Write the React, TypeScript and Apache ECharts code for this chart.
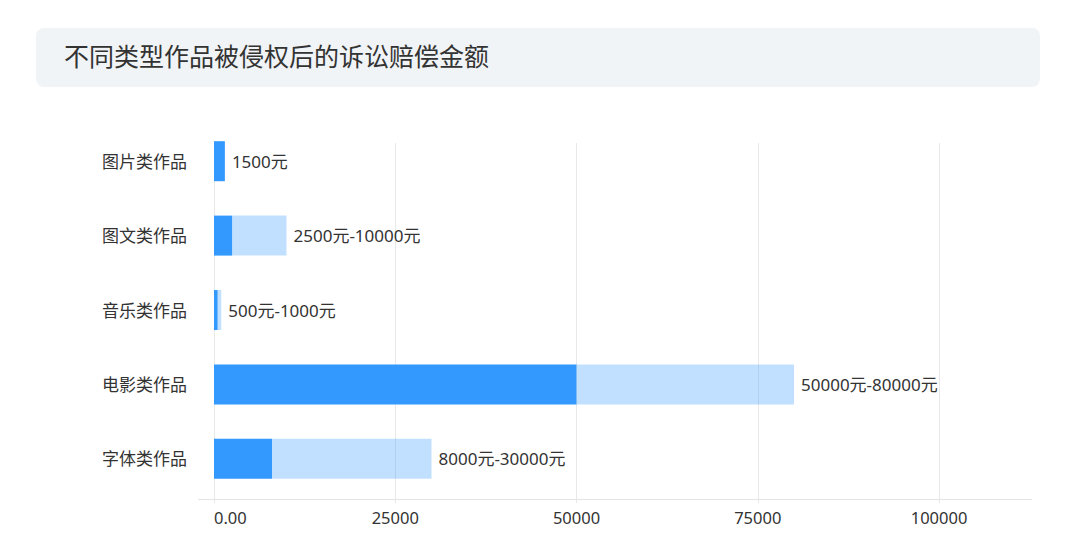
import { useEffect, useRef } from 'react';
import * as echarts from 'echarts';

const categories = ['图片类作品', '图文类作品', '音乐类作品', '电影类作品', '字体类作品'];
const minAmounts = [1500, 2500, 500, 50000, 8000];
const maxAmounts = [1500, 10000, 1000, 80000, 30000];
const amountLabels = ['1500元', '2500元-10000元', '500元-1000元', '50000元-80000元', '8000元-30000元'];
const xTicks = [0, 25000, 50000, 75000, 100000];

const FONT = '"Noto Sans", "Noto Sans CJK SC", sans-serif';

export default function App() {
  const chartRef = useRef<HTMLDivElement>(null);

  useEffect(() => {
    if (!chartRef.current) {
      return;
    }
    const chart = echarts.init(chartRef.current, undefined, { renderer: 'svg' });

    // light segment is the spread between min and max
    const spread = maxAmounts.map((v, i) => v - minAmounts[i]);

    const option: echarts.EChartsOption = {
      animation: false,
      textStyle: { fontFamily: FONT },
      title: {
        text: '不同类型作品被侵权后的诉讼赔偿金额',
        left: 64,
        top: 43,
        padding: 0,
        textStyle: { fontSize: 25, fontWeight: 'normal', color: '#333333', fontFamily: FONT },
      },
      graphic: [
        {
          type: 'rect',
          z: -1,
          shape: { x: 36, y: 28, width: 1004, height: 59, r: 8 },
          style: { fill: '#F1F4F6' },
        },
        {
          type: 'line',
          shape: { x1: 198, y1: 499.5, x2: 1032, y2: 499.5 },
          style: { stroke: '#E4E4E4', lineWidth: 1 },
        },
      ],
      grid: [
        { left: 214, right: 141, top: 124, height: 372 },
        { left: 214, right: 141, top: 143, bottom: 35 },
      ],
      xAxis: [
        { type: 'value', gridIndex: 0, min: 0, max: xTicks[xTicks.length - 1], show: false },
        {
          type: 'value',
          gridIndex: 1,
          min: xTicks[0],
          max: xTicks[xTicks.length - 1],
          interval: xTicks[1] - xTicks[0],
          axisLine: { show: false },
          axisTick: { show: true, length: 4, lineStyle: { color: '#E8E8E8' } },
          splitLine: { lineStyle: { color: '#E8E8E8', width: 1 } },
          axisLabel: {
            margin: 10,
            fontSize: 16.5,
            color: '#333333',
            fontFamily: FONT,
            alignMinLabel: 'left',
            formatter: (v: number) => (v === 0 ? '0.00' : String(v)),
          },
        },
      ],
      yAxis: [
        {
          type: 'category',
          gridIndex: 0,
          inverse: true,
          data: categories,
          axisLine: { show: false },
          axisTick: { show: false },
          axisLabel: { margin: 27, fontSize: 17, color: '#333333', fontFamily: FONT },
        },
        { type: 'value', gridIndex: 1, show: false },
      ],
      series: [
        {
          type: 'bar',
          name: '最低',
          xAxisIndex: 0,
          yAxisIndex: 0,
          stack: 'amount',
          barWidth: 40,
          data: minAmounts,
          itemStyle: { color: '#3399FF' },
        },
        {
          type: 'bar',
          name: '最高',
          xAxisIndex: 0,
          yAxisIndex: 0,
          stack: 'amount',
          barWidth: 40,
          data: spread,
          itemStyle: { color: 'rgba(51,153,255,0.3)' },
          label: {
            show: true,
            position: 'right',
            distance: 7,
            fontSize: 17,
            color: '#333333',
            fontFamily: FONT,
            formatter: (p: any) => amountLabels[p.dataIndex],
          },
        },
      ],
    };

    chart.setOption(option);

    return () => {
      chart.dispose();
    };
  }, []);

  return (
    <div
      ref={chartRef}
      style={{ position: 'fixed', left: 0, top: 0, width: '1080px', height: '534px', background: '#ffffff' }}
    />
  );
}
